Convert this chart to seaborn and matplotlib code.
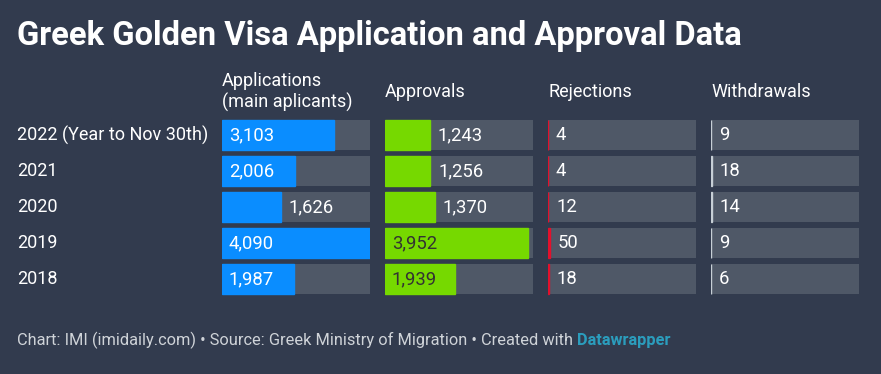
import matplotlib
matplotlib.use("Agg")
import matplotlib.pyplot as plt
import seaborn as sns
import pandas as pd

# ---- data ----
years = ["2022 (Year to Nov 30th)", "2021", "2020", "2019", "2018"]
applications = [3103, 2006, 1626, 4090, 1987]
approvals = [1243, 1256, 1370, 3952, 1939]
rejections = [4, 4, 12, 50, 18]
withdrawals = [9, 18, 14, 9, 6]
column_titles = ["Applications\n(main aplicants)", "Approvals", "Rejections", "Withdrawals"]

sns.set_theme(style="white")
plt.rcParams['font.family'] = ['Roboto', 'DejaVu Sans']

BG = "#323b4e"
TRACK = "#4f5867"
WHITE = "#ffffff"
DARK = "#333333"
bar_colors = ["#0a8dff", "#76d900", "#e3102c", "#c7cfd6"]

W, H = 881, 374
fig = plt.figure(figsize=(W / 100, H / 100), dpi=100)
fig.patch.set_facecolor(BG)

series = [applications, approvals, rejections, withdrawals]
scale_max = max(max(s) for s in series)

col_left = [222, 385, 548, 711]
col_width = 148
row_top, pitch, nrows = 117, 36, len(years)

for i, (vals, color, title) in enumerate(zip(series, bar_colors, column_titles)):
    ax = fig.add_axes([col_left[i] / W, 1 - (row_top + pitch * nrows) / H,
                       col_width / W, pitch * nrows / H])
    df = pd.DataFrame({"year": years, "value": vals, "track": [scale_max] * nrows})
    sns.barplot(data=df, x="track", y="year", ax=ax, color=TRACK, width=30 / 36,
                saturation=1, linewidth=0, orient="h")
    sns.barplot(data=df, x="value", y="year", ax=ax, color=color, width=30 / 36,
                saturation=1, edgecolor=color, linewidth=1.0, orient="h")
    ax.set_xlim(0, scale_max)
    ax.set_ylim(nrows - 0.5, -0.5)
    ax.set_facecolor(BG)
    ax.patch.set_alpha(0)
    for s in ax.spines.values():
        s.set_visible(False)
    ax.set_xticks([])
    ax.set_yticks([])
    ax.set_xlabel("")
    ax.set_ylabel("")
    # value labels
    for r, v in enumerate(vals):
        frac = v / scale_max
        if frac >= 0.45:
            x, off = 0, 5
            tc = WHITE if i == 0 else DARK
        else:
            x, off = v, 5.5
            tc = WHITE
        ax.annotate(f"{v:,}", xy=(x, r), xytext=(off, 0), textcoords="offset points",
                    ha="left", va="center", fontsize=13.3, color=tc)
    # column header
    fig.text(col_left[i] / W, 1 - 92 / H, title, ha="left", va="center",
             fontsize=13, color=WHITE, linespacing=1.2)

# row labels
for r, y in enumerate(years):
    fig.text(17 / W, 1 - (row_top + pitch * r + pitch / 2) / H, y, ha="left",
             va="center", fontsize=13, color=WHITE)

# title
fig.text(17 / W, 1 - 36 / H, "Greek Golden Visa Application and Approval Data",
         ha="left", va="center", fontsize=23.6, fontweight="bold", color=WHITE)

# footer
foot = fig.text(17 / W, 1 - 340 / H,
                "Chart: IMI (imidaily.com) \u2022 Source: Greek Ministry of Migration \u2022 Created with ",
                ha="left", va="center", fontsize=11.8, color="#cfd3d8")
fig.canvas.draw()
bb = foot.get_window_extent()
fig.text(bb.x1 / W, 1 - 340 / H, "Datawrapper", ha="left", va="center",
         fontsize=11.8, fontweight="bold", color="#2b9dbd")

fig.savefig("out.png", dpi=100, facecolor=BG)
